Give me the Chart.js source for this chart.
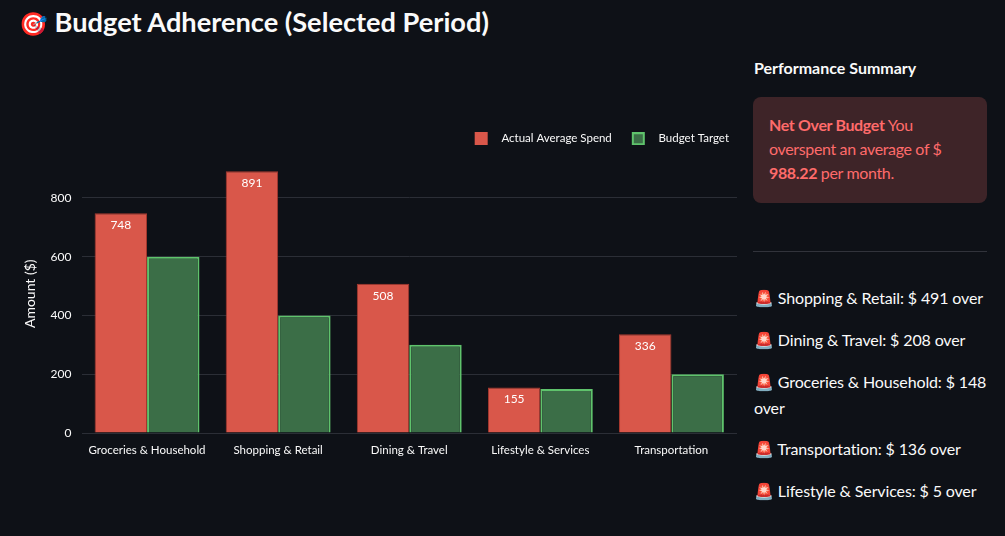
<!DOCTYPE html>
<html>
<head>
<meta charset="utf-8">
<script src="https://cdn.jsdelivr.net/npm/chart.js@4.4.0/dist/chart.umd.min.js"></script>
<style>
  html, body { margin:0; padding:0; background:#0e1117; width:1005px; height:536px; overflow:hidden; font-family: Lato, "Noto Sans", sans-serif; color:#fafafa; }
  #title { position:absolute; left:19px; top:5px; font-size:27.2px; font-weight:700; color:#fafafa; white-space:nowrap; }
  #title .emo { font-size:23px; }
  #chartWrap { position:absolute; left:0; top:125px; width:740px; height:338px; }
  #side { position:absolute; left:754px; top:0; width:234px; }
  #perf { position:absolute; top:58px; left:0; font-size:16px; font-weight:700; white-space:nowrap; }
  #box { position:absolute; top:97px; left:-1px; width:202px; height:74px; padding:16px 16px; background:#3e2428; border-radius:8px; color:#ff6b6b; font-size:16px; line-height:24px; letter-spacing:-0.35px; }
  #box b { font-weight:700; }
  #hr { position:absolute; top:251px; left:-1px; width:234px; height:1px; background:#31333b; }
  .item { position:absolute; left:0; font-size:16px; line-height:26px; letter-spacing:-0.13px; white-space:nowrap; color:#fafafa; }
</style>
</head>
<body>
<div id="title"><span class="emo">🎯</span> Budget Adherence (Selected Period)</div>
<div id="chartWrap"><canvas id="c"></canvas></div>
<div id="side">
  <div id="perf">Performance Summary</div>
  <div id="box"><b>Net Over Budget</b> You overspent an average of $ <b>988.22</b> per month.</div>
  <div id="hr"></div>
  <div id="list"></div>
</div>
<script>
const categories = ["Groceries & Household", "Shopping & Retail", "Dining & Travel", "Lifestyle & Services", "Transportation"];
const actualSpend = [748, 891, 508, 155, 336];
const budgetTarget = [600, 400, 300, 150, 200];
const yTicks = [0, 200, 400, 600, 800];
const yMax = 948;
const summaryItems = [
  ["Shopping & Retail", 491],
  ["Dining & Travel", 208],
  ["Groceries & Household", 148],
  ["Transportation", 136],
  ["Lifestyle & Services", 5]
];

const FONT = 'Lato, "Noto Sans", sans-serif';

// side list
const listTops = [285, 327, 369, 436, 478];
const list = document.getElementById('list');
summaryItems.forEach((it, i) => {
  const d = document.createElement('div');
  d.className = 'item';
  d.style.top = listTops[i] + 'px';
  if (it[0] === "Groceries & Household") {
    d.style.whiteSpace = 'normal';
    d.style.width = '234px';
  }
  d.textContent = '🚨 ' + it[0] + ': $ ' + it[1] + ' over';
  list.appendChild(d);
});

function makeSwatch(fill, stroke, lw) {
  const cv = document.createElement('canvas');
  cv.width = 33; cv.height = 13;
  const g = cv.getContext('2d');
  g.fillStyle = fill;
  g.fillRect(12, 0, 13, 13);
  if (lw > 0) {
    g.strokeStyle = stroke;
    g.lineWidth = lw;
    g.strokeRect(12 + lw / 2, lw / 2, 13 - lw, 13 - lw);
  }
  return cv;
}

const labelPlugin = {
  id: 'valueLabels',
  afterDatasetsDraw(chart) {
    const ctx = chart.ctx;
    const meta = chart.getDatasetMeta(0);
    ctx.save();
    ctx.fillStyle = '#ffffff';
    ctx.font = '12px ' + FONT;
    ctx.textAlign = 'center';
    ctx.textBaseline = 'middle';
    meta.data.forEach((bar, i) => {
      ctx.fillText(String(actualSpend[i]), bar.x, bar.y + 12);
    });
    ctx.restore();
  }
};

new Chart(document.getElementById('c'), {
  type: 'bar',
  data: {
    labels: categories,
    datasets: [
      { label: 'Actual Average Spend', data: actualSpend, backgroundColor: '#d9574a', borderColor: '#a8392f', borderWidth: 1, barPercentage: 1.0, categoryPercentage: 0.8, swatchLw: 0 },
      { label: 'Budget Target', data: budgetTarget, backgroundColor: '#3b6e47', borderColor: '#5fc36c', borderWidth: 2, barPercentage: 1.0, categoryPercentage: 0.8, swatchLw: 2 }
    ]
  },
  options: {
    responsive: true,
    maintainAspectRatio: false,
    animation: false,
    layout: { padding: { left: 16, right: 3, top: 0, bottom: 0 } },
    plugins: {
      legend: {
        display: true,
        align: 'end',
        labels: {
          color: '#fafafa',
          usePointStyle: true,
          pointStyleWidth: 33,
          boxHeight: 13,
          padding: 8,
          font: { family: FONT, size: 11.5 },
          generateLabels(chart) {
            return chart.data.datasets.map((ds, i) => ({
              text: ds.label,
              fillStyle: ds.backgroundColor,
              strokeStyle: ds.borderColor,
              lineWidth: ds.borderWidth,
              hidden: !chart.isDatasetVisible(i),
              datasetIndex: i,
              fontColor: '#fafafa',
              pointStyle: makeSwatch(ds.backgroundColor, ds.borderColor, ds.swatchLw)
            }));
          }
        }
      },
      tooltip: { enabled: false }
    },
    scales: {
      x: {
        grid: { display: false, drawTicks: false },
        border: { display: false },
        ticks: { color: '#fafafa', font: { family: FONT, size: 11.5 }, padding: 10 },
        afterFit(axis) { axis.height = 30; }
      },
      y: {
        min: 0,
        max: yMax,
        afterBuildTicks(axis) { axis.ticks = yTicks.map(v => ({ value: v })); },
        grid: { color: '#2b2e36', lineWidth: 1, drawTicks: false },
        border: { display: false },
        ticks: { color: '#fafafa', font: { family: FONT, size: 12 }, padding: 10 },
        title: { display: true, text: 'Amount ($)', color: '#fafafa', font: { family: FONT, size: 14 }, padding: { top: 6, bottom: 13 } },
        afterFit(axis) { axis.width = 65.5; }
      }
    }
  },
  plugins: [labelPlugin]
});
</script>
</body>
</html>
